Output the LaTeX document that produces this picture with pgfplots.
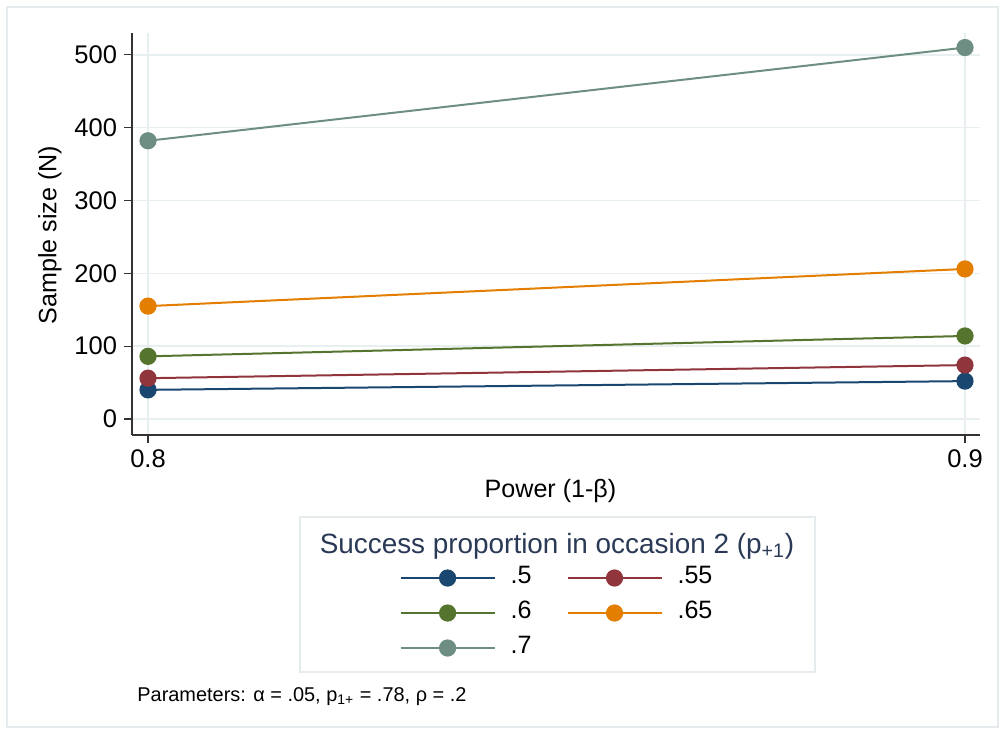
\documentclass[border=0pt]{standalone}
\usepackage{fontspec}
\setmainfont{Liberation Sans}
\usepackage{pgfplots}
\pgfplotsset{compat=1.18}
\definecolor{snavy}{HTML}{1A476F}
\definecolor{smaroon}{HTML}{90353B}
\definecolor{sgreen}{HTML}{55752F}
\definecolor{sorange}{HTML}{E37E00}
\definecolor{steal}{HTML}{6E8E84}
\definecolor{gridc}{HTML}{E8EFF1}
\definecolor{framec}{HTML}{E6ECEE}
\definecolor{titlec}{HTML}{2A3A56}
\begin{document}
\begin{tikzpicture}[x=1bp,y=1bp]
\path[use as bounding box] (0,0) rectangle (502.5,367);
\fill[white] (0,0) rectangle (502.5,367);
\draw[color=framec, line width=0.6bp] (3.5,3.5) rectangle (499,363.5);
\begin{axis}[
  at={(66bp,149.5bp)}, anchor=south west,
  scale only axis, width=424bp, height=201bp,
  xmin=0.79804, xmax=0.90184, ymin=-22, ymax=530,
  axis lines*=left,
  axis line style={color=black!80, line width=0.6bp},
  tick align=outside, major tick length=4bp,
  tick style={color=black!80, line width=0.6bp},
  grid=major, grid style={color=gridc, line width=0.7bp},
  xtick={0.8,0.9}, xticklabels={0.8,0.9},
  ytick={0,100,200,300,400,500},
  /pgf/number format/assume math mode=true,
  tick label style={font=\fontsize{12.8}{15}\selectfont},
  xlabel={Power (1-β)}, ylabel={Sample size (N)},
  every axis x label/.style={at={(0.4935,-0.139)}, anchor=center, font=\fontsize{12.6}{15}\selectfont},
  every axis y label/.style={at={(-0.0967,0.4975)}, anchor=center, rotate=90, font=\fontsize{12.6}{15}\selectfont},
  every axis plot/.append style={line width=1bp, mark=*, mark size=3.8bp},
  legend columns=2,
  legend cell align=left,
  legend style={at={(0.5000,-0.4428)}, anchor=center, draw=none, fill=none,
    font=\fontsize{12.6}{15}\selectfont,
    nodes={inner sep=0bp, text height=9bp, text depth=3.5bp},
    row sep=5bp,
    /tikz/every odd column/.style={column sep=7.5bp},
    /tikz/every even column/.style={column sep=17.5bp}},
  legend image code/.code={\draw[mark repeat=2,mark phase=2] plot coordinates {(0bp,0bp) (23.5bp,0bp) (47bp,0bp)};},
  clip=false
]
\addplot[color=snavy, mark options={fill=snavy, draw=snavy}] coordinates {(0.8,40) (0.9,52)};
\addlegendentry{.5}
\addplot[color=smaroon, mark options={fill=smaroon, draw=smaroon}] coordinates {(0.8,56) (0.9,74)};
\addlegendentry{.55}
\addplot[color=sgreen, mark options={fill=sgreen, draw=sgreen}] coordinates {(0.8,86) (0.9,114)};
\addlegendentry{.6}
\addplot[color=sorange, mark options={fill=sorange, draw=sorange}] coordinates {(0.8,155) (0.9,206)};
\addlegendentry{.65}
\addplot[color=steal, mark options={fill=steal, draw=steal}] coordinates {(0.8,382) (0.9,510)};
\addlegendentry{.7}
\end{axis}
\draw[color=framec, line width=0.6bp] (150,31) rectangle (407.5,108.5);
\node[font=\fontsize{14}{16}\selectfont, text=titlec, anchor=center] at (278.5,94) {Success proportion in occasion 2 (p\textsubscript{+1})};
\node[font=\fontsize{10}{12}\selectfont, anchor=west, inner sep=0pt] at (68.5,18.5) {Parameters: α = .05, p\textsubscript{1+} = .78, ρ = .2};
\end{tikzpicture}
\end{document}
